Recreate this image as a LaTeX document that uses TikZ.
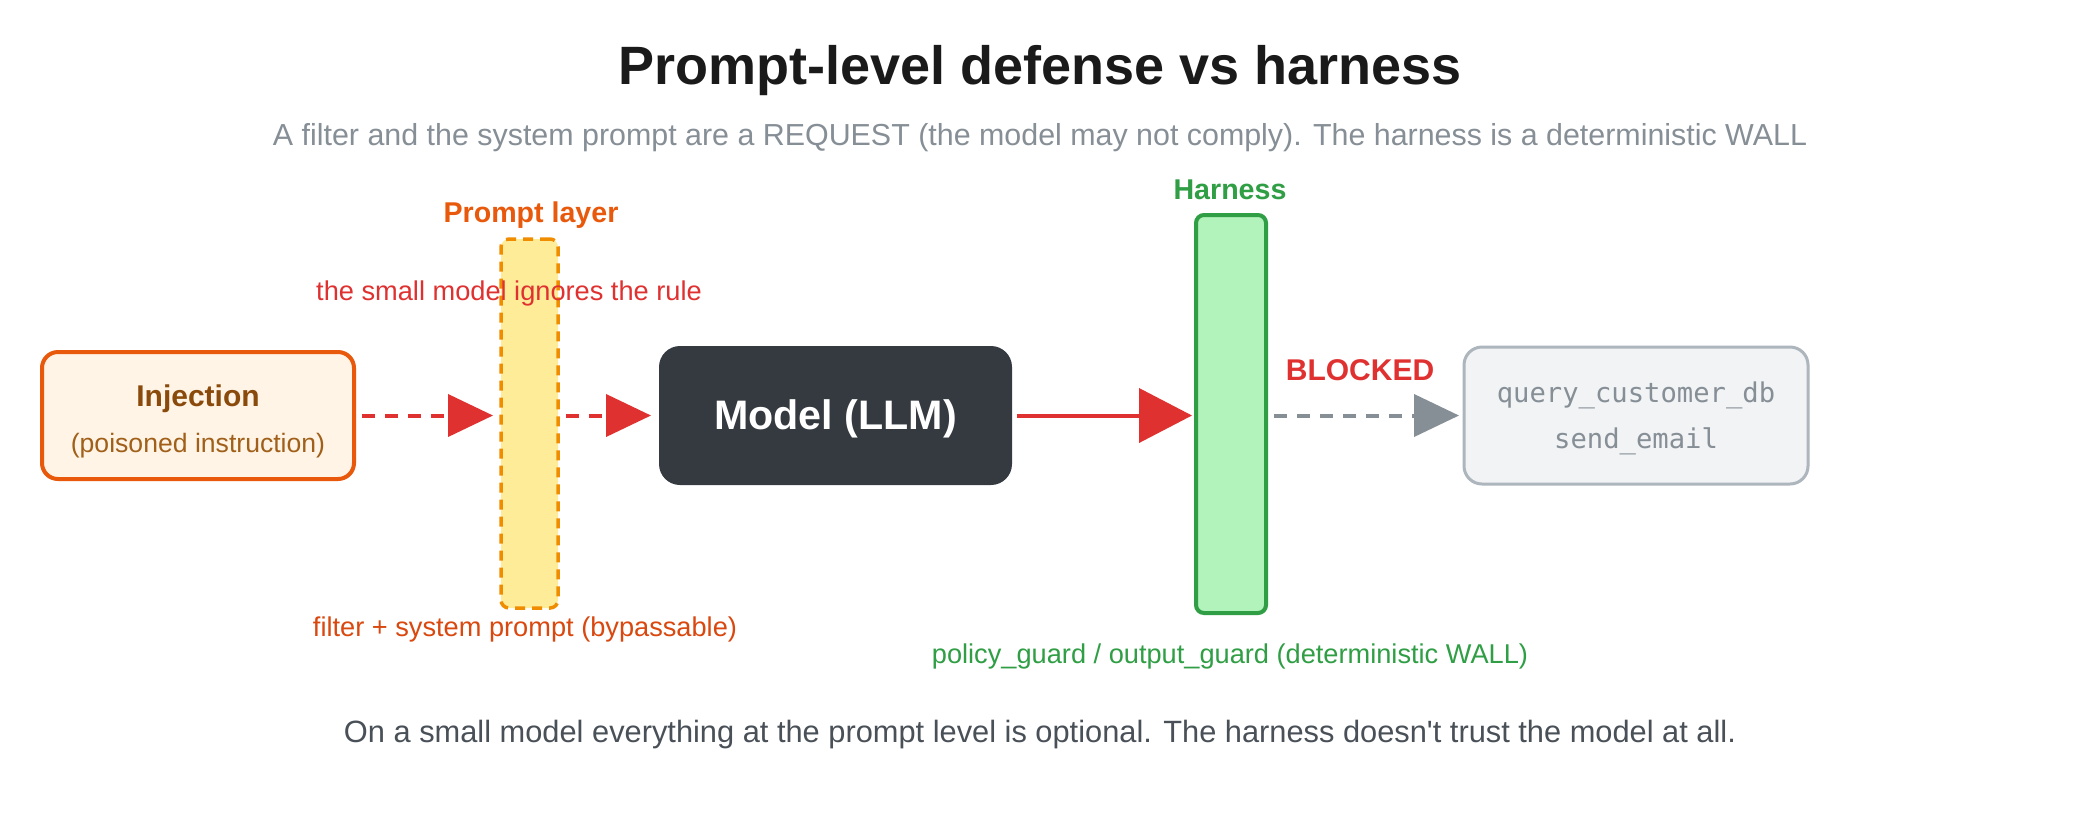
\documentclass[tikz,border=0pt]{standalone}
\usepackage{fontspec}
\setmainfont{Liberation Sans}[Ligatures=TeXOff]
\setmonofont{DejaVu Sans Mono}
\usetikzlibrary{arrows.meta}
\definecolor{titlec}{HTML}{1A1A1A}
\definecolor{subc}{HTML}{868E96}
\definecolor{footc}{HTML}{495057}
\definecolor{orangec}{HTML}{E8590C}
\definecolor{orangetxt}{HTML}{D9480F}
\definecolor{injfill}{HTML}{FFF4E6}
\definecolor{injtxt}{HTML}{8A4A0C}
\definecolor{injsub}{HTML}{A0601A}
\definecolor{promptfill}{HTML}{FFEC99}
\definecolor{promptdraw}{HTML}{F08C00}
\definecolor{redc}{HTML}{E03131}
\definecolor{modelc}{HTML}{343A40}
\definecolor{harnfill}{HTML}{B2F2BB}
\definecolor{greenc}{HTML}{2F9E44}
\definecolor{grayc}{HTML}{868E96}
\definecolor{toolsdraw}{HTML}{ADB5BD}
\definecolor{toolsfill}{HTML}{F1F3F5}
\newcommand\myfs[1]{\fontsize{#1}{#1}\selectfont}
\tikzset{
  boxnode/.style={inner sep=0pt, outer sep=0pt},
  redflow/.style={draw=redc, line width=2pt, -{Triangle[length=22.5pt,width=21pt]}},
  dashflow/.style={dash pattern=on 6.5pt off 5pt},
  lbl/.style={inner sep=0pt, font=\myfs{13.6}},
  blbl/.style={inner sep=0pt, font=\myfs{14.3}\bfseries},
}
\begin{document}
\begin{tikzpicture}[x=0.5pt,y=-0.5pt]
\useasboundingbox[fill=white] (0,0) rectangle (2080,820);

\node[inner sep=0pt, font=\myfs{27}\bfseries, text=titlec] (title) at (1040,71) {Prompt-level defense vs harness};
\node[inner sep=0pt, font=\myfs{15.2}, text=subc] (subtitle) at (1040,138) {A filter and the system prompt are a REQUEST (the model may not comply). The harness is a deterministic WALL};

% boxes
\node[boxnode, draw=orangec, fill=injfill, line width=2pt, rounded corners=8pt,
      minimum width=156pt, minimum height=63.5pt] (inj) at (198,415.5) {};
\node[inner sep=0pt, font=\myfs{15}\bfseries, text=injtxt] (injt) at (198,399) {Injection};
\node[inner sep=0pt, font=\myfs{13.3}, text=injsub] (injs) at (198,446) {(poisoned instruction)};

\node[boxnode, draw=promptdraw, fill=promptfill, line width=1.75pt, dash pattern=on 5pt off 3.5pt,
      rounded corners=4pt, minimum width=28.5pt, minimum height=184.5pt] (prompt) at (529.5,423.5) {};

\node[boxnode, fill=modelc, rounded corners=10.5pt, minimum width=176.5pt, minimum height=69.5pt] (model) at (835.5,415.5) {};
\node[inner sep=0pt, text=white, font=\myfs{20.6}\bfseries] (modelt) at (835.5,419) {Model (LLM)};

\node[boxnode, draw=greenc, fill=harnfill, line width=2pt, rounded corners=4pt,
      minimum width=35pt, minimum height=199pt] (harness) at (1231,414) {};

\node[boxnode, draw=toolsdraw, fill=toolsfill, line width=1.5pt, rounded corners=9pt,
      minimum width=172pt, minimum height=68.5pt] (tools) at (1636,415.5) {};
\node[inner sep=0pt, font=\ttfamily\myfs{13.6}, text=grayc] (tool1) at (1636,395.5) {query\_customer\_db};
\node[inner sep=0pt, font=\ttfamily\myfs{13.6}, text=grayc] (tool2) at (1636,441.5) {send\_email};

% arrows
\draw[redflow, dashflow, shorten <=4pt, shorten >=4pt] (inj.east) -- (inj.east -| prompt.west);
\draw[redflow, dashflow, shorten <=4pt, shorten >=4pt] (prompt.east |- model.west) -- (model.west);
\draw[draw=redc, line width=2pt, -{Triangle[length=26.5pt,width=27pt]}, shorten <=2.5pt, shorten >=2pt] (model.east) -- (model.east -| harness.west);
\draw[draw=grayc, line width=2pt, dashflow, -{Triangle[length=22.5pt,width=21pt]}, shorten <=4pt, shorten >=2.5pt] (harness.east |- tools.west) -- (tools.west);

% labels
\node[blbl, text=orangec] (plabel) at (531,215) {Prompt layer};
\node[lbl, text=redc] (ignores) at (509,293) {the small model ignores the rule};
\node[lbl, text=orangetxt] (filter) at (525,629) {filter + system prompt (bypassable)};
\node[blbl, text=greenc] (hlabel) at (1230,190) {Harness};
\node[lbl, text=greenc] (guard) at (1230,656) {policy\_guard / output\_guard (deterministic WALL)};
\node[inner sep=0pt, font=\myfs{15}\bfseries, text=redc] (blocked) at (1360,370) {BLOCKED};

\node[inner sep=0pt, font=\myfs{15.4}, text=footc] (footer) at (1040,735) {On a small model everything at the prompt level is optional. The harness doesn't trust the model at all.};
\end{tikzpicture}
\end{document}
